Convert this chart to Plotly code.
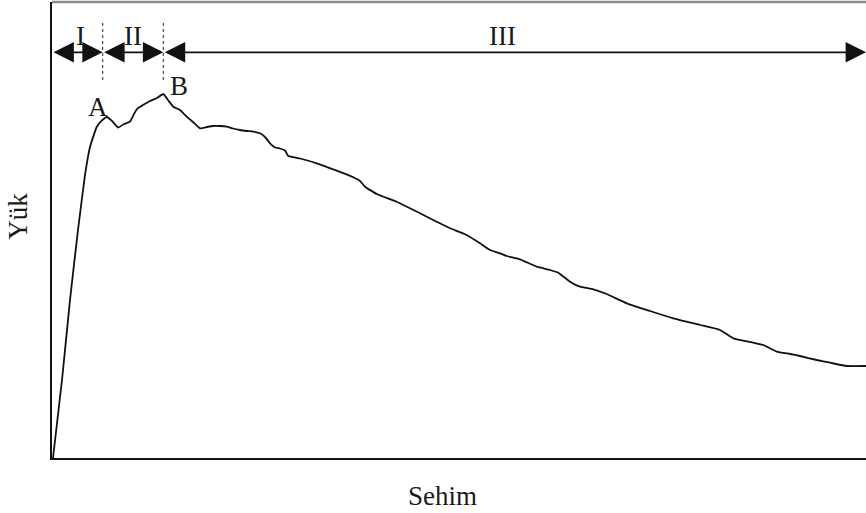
import plotly.graph_objects as go

# Load-deflection curve (arbitrary units)
sehim = [0.1, 1.0, 1.8, 2.6, 3.3, 3.8, 4.47, 4.97, 5.5, 6.0, 6.63, 7.2, 7.8, 8.2, 8.5,
         9.1, 9.8, 10.5, 11.13, 11.6, 12.13, 12.8, 13.47, 14.1, 14.8, 15.5, 16.13,
         16.8, 17.47, 18.1, 18.8, 19.5, 20.13, 20.8, 21.3, 21.8, 22.3, 22.8, 23.3,
         23.63, 24.8, 26.47, 28.47, 30.13, 30.8, 31.3, 32.47, 34.47, 36.8, 38.47,
         39.8, 41.47, 42.8, 43.8, 44.8, 45.47, 46.8, 48.47, 49.8, 50.63, 51.8, 52.8,
         54.13, 55.47, 57.47, 59.8, 62.13, 64.8, 66.8, 68.13, 70.13, 71.13, 72.47,
         73.8, 74.8, 76.47, 77.8, 79.47, 81.4]
yuk = [0.0, 7.8, 15.8, 22.8, 28.3, 31.1, 33.1, 33.73, 34.1, 33.7, 33.05, 33.4,
       33.63, 34.4, 34.9, 35.3, 35.7, 36.0, 36.4, 35.8, 35.13, 34.8, 34.13, 33.6,
       32.97, 33.1, 33.2, 33.2, 33.13, 32.95, 32.8, 32.7, 32.63, 32.47, 32.1, 31.47,
       31.05, 30.95, 30.75, 30.2, 29.95, 29.47, 28.73, 28.07, 27.7, 27.13, 26.4,
       25.63, 24.47, 23.63, 22.97, 22.3, 21.47, 20.8, 20.47, 20.2, 19.87, 19.13,
       18.8, 18.53, 17.63, 17.13, 16.87, 16.4, 15.47, 14.7, 13.97, 13.3, 12.8,
       11.97, 11.53, 11.3, 10.63, 10.4, 10.2, 9.8, 9.53, 9.2, 9.2]

# Region boundaries (I | II | III) and label anchors
sinirlar = [0.0, 5.07, 11.13, 81.4]
bolge_etiketleri = ["I", "II", "III"]
bolge_etiket_x = [2.8, 8.07, 45.0]
nokta_etiketleri = ["A", "B"]
nokta_x = [4.63, 12.7]
nokta_y = [35.13, 37.2]

X_MAX, Y_MAX = 81.4, 45.6
OK_Y = 40.57
ETIKET_Y = 42.2
FONT = dict(family="Liberation Serif", size=27, color="#1a1a1a")

fig = go.Figure()
fig.add_trace(go.Scatter(x=sehim, y=yuk, mode="lines",
                         line=dict(color="#111111", width=1.8, shape="spline", smoothing=0.4),
                         hoverinfo="skip", showlegend=False))

shapes = []
# dotted separators at A and B
for xb in sinirlar[1:3]:
    shapes.append(dict(type="line", xref="x", yref="y", x0=xb, x1=xb, y0=37.8, y1=43.8,
                       line=dict(color="#222222", width=1, dash="dot")))
# grey frame line at the top
shapes.append(dict(type="line", xref="paper", yref="paper", x0=0, x1=1, y0=1, y1=1,
                   line=dict(color="#8a8a8a", width=2.5)))

annotations = []
# double-headed region arrows
for i in range(3):
    annotations.append(dict(x=sinirlar[i + 1], y=OK_Y, ax=sinirlar[i], ay=OK_Y,
                            xref="x", yref="y", axref="x", ayref="y", text="",
                            showarrow=True, arrowside="end+start", arrowhead=2,
                            startarrowhead=2, arrowsize=2.4, startarrowsize=2.4,
                            arrowwidth=1.7, arrowcolor="#111111", standoff=0,
                            startstandoff=0))
    annotations.append(dict(x=bolge_etiket_x[i], y=ETIKET_Y, xref="x", yref="y",
                            text=bolge_etiketleri[i], showarrow=False, font=FONT,
                            xanchor="center", yanchor="middle"))
for t, xx, yy in zip(nokta_etiketleri, nokta_x, nokta_y):
    annotations.append(dict(x=xx, y=yy, xref="x", yref="y", text=t,
                            showarrow=False, font=FONT,
                            xanchor="center", yanchor="middle"))
# axis titles
annotations.append(dict(x=0.480, y=-0.083, xref="paper", yref="paper", text="Sehim",
                        showarrow=False, font=FONT, xanchor="center", yanchor="middle"))
annotations.append(dict(x=-0.0418, y=0.531, xref="paper", yref="paper", text="Yük",
                        textangle=-90, showarrow=False, font=FONT,
                        xanchor="center", yanchor="middle"))

fig.update_layout(
    width=866, height=513,
    margin=dict(l=52, r=0, t=2, b=55),
    paper_bgcolor="white", plot_bgcolor="white",
    shapes=shapes, annotations=annotations,
    xaxis=dict(range=[0, X_MAX], showgrid=False, zeroline=False, showticklabels=False,
               ticks="", showline=True, linecolor="#111111", linewidth=1.6),
    yaxis=dict(range=[0, Y_MAX], showgrid=False, zeroline=False, showticklabels=False,
               ticks="", showline=True, linecolor="#111111", linewidth=1.6),
)

fig.write_html("out.html")
